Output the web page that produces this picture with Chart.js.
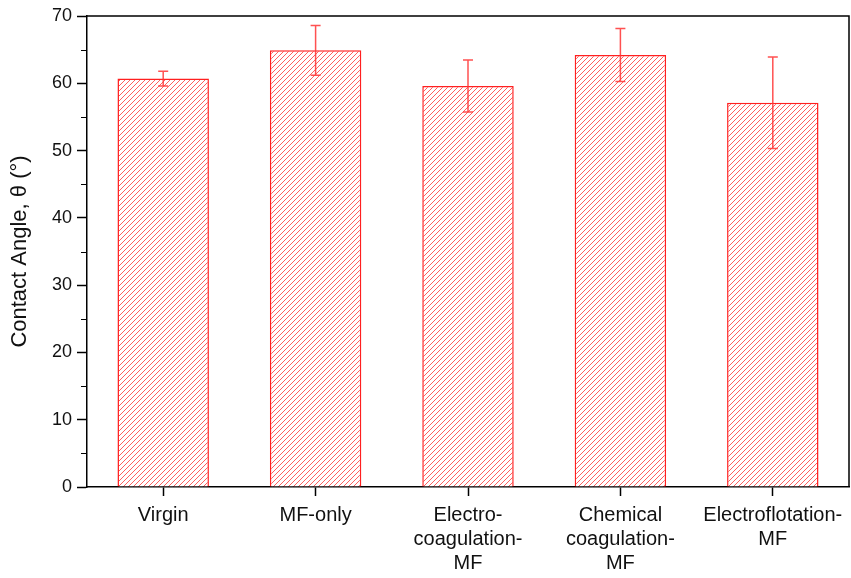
<!DOCTYPE html>
<html>
<head>
<meta charset="utf-8">
<script src="https://cdn.jsdelivr.net/npm/chart.js@4/dist/chart.umd.min.js"></script>
<style>
  html, body { margin: 0; padding: 0; background: #fff; }
  #c { display: block; }
</style>
</head>
<body>
<canvas id="c" width="851" height="578"></canvas>
<script>
const categories = ['Virgin', 'MF-only', ['Electro-', 'coagulation-', 'MF'], ['Chemical', 'coagulation-', 'MF'], ['Electroflotation-', 'MF']];
const contactAngle = [60.7, 64.9, 59.6, 64.2, 57.1];
const contactAngleError = [1.1, 3.7, 3.85, 3.95, 6.8];
const yMin = 0, yMax = 70, yStep = 10, yMinorStep = 5;

const FONT = '"Liberation Sans", Arial, Helvetica, sans-serif';

function hatchPattern() {
  const s = 5;
  const pc = document.createElement('canvas');
  pc.width = s; pc.height = s;
  const p = pc.getContext('2d');
  p.fillStyle = '#ffffff';
  p.fillRect(0, 0, s, s);
  p.strokeStyle = 'rgba(255,40,40,0.75)';
  p.lineWidth = 1;
  p.beginPath();
  p.moveTo(-1, s + 1); p.lineTo(s + 1, -1);
  p.moveTo(-1, 1); p.lineTo(1, -1);
  p.moveTo(s - 1, s + 1); p.lineTo(s + 1, s - 1);
  p.stroke();
  return p.createPattern(pc, 'repeat');
}

const errorBarsPlugin = {
  id: 'errorBars',
  afterDatasetsDraw(chart) {
    const ctx = chart.ctx;
    const meta = chart.getDatasetMeta(0);
    const y = chart.scales.y;
    ctx.save();
    ctx.strokeStyle = 'rgba(255,50,50,0.85)';
    ctx.lineWidth = 1.5;
    meta.data.forEach((bar, i) => {
      const v = contactAngle[i], e = contactAngleError[i];
      const yt = y.getPixelForValue(v + e);
      const yb = y.getPixelForValue(v - e);
      const x = bar.x;
      ctx.beginPath();
      ctx.moveTo(x, yt); ctx.lineTo(x, yb);
      ctx.moveTo(x - 5, yt); ctx.lineTo(x + 5, yt);
      ctx.moveTo(x - 5, yb); ctx.lineTo(x + 5, yb);
      ctx.stroke();
    });
    ctx.restore();
  }
};

const framePlugin = {
  id: 'frame',
  afterDraw(chart) {
    const ctx = chart.ctx;
    const a = chart.chartArea;
    const y = chart.scales.y;
    ctx.save();
    ctx.strokeStyle = '#000';
    ctx.lineWidth = 1.5;
    ctx.beginPath();
    ctx.moveTo(a.left, a.top); ctx.lineTo(a.right, a.top); ctx.lineTo(a.right, a.bottom);
    ctx.stroke();
    // minor ticks
    ctx.lineWidth = 1.2;
    ctx.beginPath();
    for (let v = yMin + yMinorStep; v < yMax; v += yStep) {
      const py = Math.round(y.getPixelForValue(v)) + 0.5;
      ctx.moveTo(a.left, py); ctx.lineTo(a.left - 6, py);
    }
    ctx.stroke();
    ctx.restore();
  }
};

new Chart(document.getElementById('c'), {
  type: 'bar',
  data: {
    labels: categories,
    datasets: [{
      data: contactAngle,
      backgroundColor: hatchPattern(),
      borderColor: '#ff2020',
      borderWidth: 1.5,
      barPercentage: 0.6,
      categoryPercentage: 1.0
    }]
  },
  options: {
    responsive: false,
    animation: false,
    devicePixelRatio: 1,
    layout: { padding: { top: 16, right: 2, left: 0, bottom: 0 } },
    plugins: { legend: { display: false }, tooltip: { enabled: false } },
    scales: {
      x: {
        grid: { display: true, drawOnChartArea: false, offset: false, tickLength: 9, color: '#000', tickWidth: 1.5 },
        border: { color: '#000', width: 1.5 },
        ticks: { color: '#111', font: { family: FONT, size: 20 }, padding: 7, maxRotation: 0, autoSkip: false },
        afterFit(s) { s.height = 91; }
      },
      y: {
        min: yMin, max: yMax,
        grid: { display: true, drawOnChartArea: false, tickLength: 10, color: '#000', tickWidth: 1.5 },
        border: { color: '#000', width: 1.5 },
        ticks: { stepSize: yStep, color: '#111', font: { family: FONT, size: 18 }, padding: 5 },
        title: { display: true, text: 'Contact Angle, θ (°)', color: '#111', font: { family: FONT, size: 22 }, padding: { top: 7, bottom: 0 } },
        afterFit(s) { s.width = 87; }
      }
    }
  },
  plugins: [errorBarsPlugin, framePlugin]
});
</script>
</body>
</html>
